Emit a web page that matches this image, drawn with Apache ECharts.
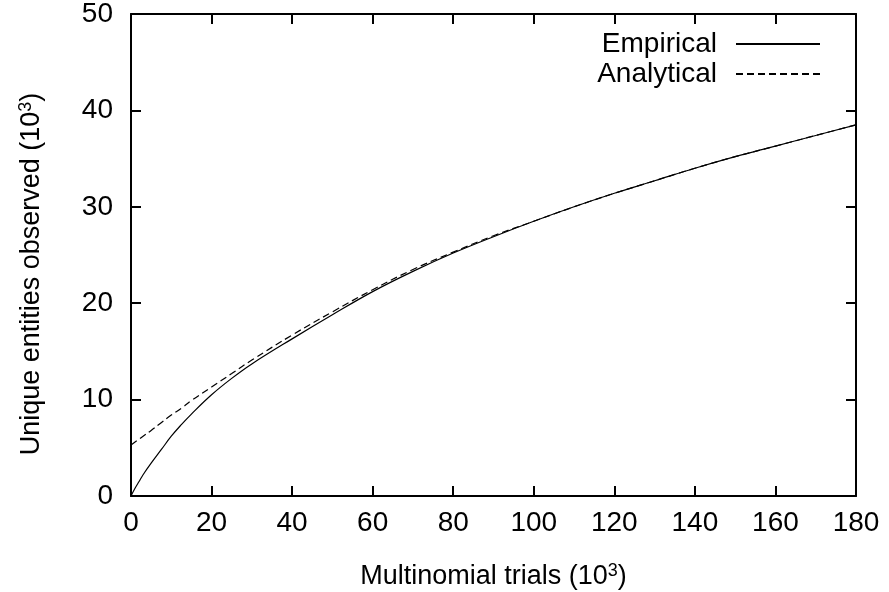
<!DOCTYPE html>
<html>
<head>
<meta charset="utf-8">
<script src="https://cdn.jsdelivr.net/npm/echarts@6/dist/echarts.min.js"></script>
<style>
  html, body { margin: 0; padding: 0; background: #fff; }
  #chart { width: 889px; height: 592px; }
</style>
</head>
<body>
<div id="chart"></div>
<script>
// Multinomial trials (thousands)
const trials = [0, 1, 2, 3, 5, 7.5, 10, 12.5, 15, 20, 25, 30, 40, 50, 60, 70, 80, 90, 100, 110, 120, 130, 140, 150, 160, 170, 180];
// Unique entities observed (thousands), measured
const empirical = [0, 0.8, 1.5, 2.2, 3.4, 4.8, 6.2, 7.4, 8.5, 10.5, 12.2, 13.7, 16.3, 18.8, 21.2, 23.3, 25.2, 26.9, 28.5, 30.0, 31.4, 32.7, 34.0, 35.2, 36.3, 37.4, 38.5];
// Unique entities, analytical prediction
const analytical = [5.3, 5.6, 5.9, 6.2, 6.8, 7.6, 8.4, 9.1, 9.9, 11.3, 12.7, 14.1, 16.7, 19.1, 21.4, 23.5, 25.3, 27.0, 28.5, 30.0, 31.4, 32.7, 34.0, 35.2, 36.3, 37.4, 38.5];
const xTicks = [0, 20, 40, 60, 80, 100, 120, 140, 160, 180];
const yTicks = [0, 10, 20, 30, 40, 50];

const font = 'Liberation Sans, Arial, Helvetica, sans-serif';
const axisLine = { show: true, onZero: false, lineStyle: { color: '#000', width: 2 } };
const tickIn = { show: true, inside: true, length: 10, lineStyle: { color: '#000', width: 2 } };
const labelStyle = { color: '#000', fontSize: 28, fontFamily: font };
const supRich = {
  sup: { fontSize: 18, verticalAlign: 'top', padding: [0, 0, 12, 0], color: '#000', fontFamily: font },
  n: { fontSize: 27, color: '#000', fontFamily: font }
};

const chart = echarts.init(document.getElementById('chart'), null, { renderer: 'canvas' });
chart.setOption({
  animation: false,
  backgroundColor: '#fff',
  grid: { left: 131, top: 14, right: 33, bottom: 96, containLabel: false, outerBoundsMode: 'none' },
  legend: {
    orient: 'vertical',
    right: 63,
    top: 25,
    align: 'right',
    itemWidth: 84,
    itemHeight: 14,
    itemGap: 2,
    itemStyle: { opacity: 0 },
    textStyle: { color: '#000', fontSize: 28, fontFamily: font, padding: [0, 14, 0, 0] },
    data: ['Empirical', 'Analytical']
  },
  xAxis: [{
    type: 'value', position: 'bottom', min: 0, max: 180, interval: 20,
    axisLine, axisTick: tickIn, splitLine: { show: false },
    axisLabel: Object.assign({ margin: 13 }, labelStyle),
    name: '{n|Multinomial trials (10}{sup|3}{n|)}',
    nameLocation: 'middle', nameGap: 66,
    nameTextStyle: { rich: supRich }
  }, {
    type: 'value', position: 'top', min: 0, max: 180, interval: 20,
    axisLine, axisTick: tickIn, splitLine: { show: false }, axisLabel: { show: false }
  }],
  yAxis: [{
    type: 'value', position: 'left', min: 0, max: 50, interval: 10,
    axisLine, axisTick: tickIn, splitLine: { show: false },
    axisLabel: Object.assign({ margin: 18 }, labelStyle),
    name: '{n|Unique entities observed (10}{sup|3}{n|)}',
    nameLocation: 'middle', nameGap: 84, nameRotate: 90,
    nameTextStyle: { rich: supRich, padding: [0, 38, 0, 0] }
  }, {
    type: 'value', position: 'right', min: 0, max: 50, interval: 10,
    axisLine, axisTick: tickIn, splitLine: { show: false }, axisLabel: { show: false }
  }],
  series: [{
    name: 'Empirical', type: 'line', smooth: 0.4, symbol: 'none',
    data: trials.map((t, i) => [t, empirical[i]]),
    lineStyle: { color: '#000', width: 1.2, type: 'solid' },
    itemStyle: { color: '#000' }
  }, {
    name: 'Analytical', type: 'line', smooth: 0.4, symbol: 'none',
    data: trials.map((t, i) => [t, analytical[i]]),
    lineStyle: { color: '#000', width: 1.2, type: [7, 4] },
    itemStyle: { color: '#000' }
  }]
});
</script>
</body>
</html>
